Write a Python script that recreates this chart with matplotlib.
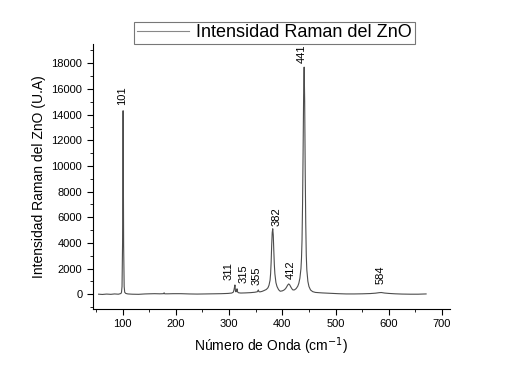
import matplotlib
matplotlib.use("Agg")
import matplotlib.pyplot as plt
from matplotlib.ticker import MultipleLocator

plt.rcParams['font.family'] = ['Liberation Sans', 'DejaVu Sans']

# Espectro Raman del ZnO
numero_onda = [55, 62, 70, 78, 85, 92, 95, 97, 98, 99, 100, 101, 102, 103, 104, 106,
               110, 118, 130, 142, 150, 160, 170, 177, 178, 179, 185, 195, 210,
               225, 240, 255, 270, 285, 298, 305, 308, 309, 310, 311, 312, 313,
               314, 315, 316, 318, 322, 330, 340, 348, 353, 354, 355, 356, 358,
               362, 366, 370, 373, 375, 377, 378, 379, 380, 381, 382, 383, 384,
               385, 386, 388, 390, 393, 396, 400, 403, 406, 408, 410, 412, 414,
               416, 418, 420, 423, 426, 429, 431, 433, 435, 436, 437, 438, 439,
               440, 441, 442, 443, 444, 445, 446, 448, 450, 453, 457, 462, 468,
               475, 485, 495, 505, 520, 535, 550, 565, 575, 582, 586, 592, 600,
               612, 625, 640, 655, 670]
intensidad = [0, -20, 10, -10, 20, 0, 30, 60, 150, 600, 4000, 14300, 3800, 600,
              150, 60, 20, 0, -10, 20, 30, 40, 30, 40, 110, 30, 30, 40, 40,
              20, 10, 20, 30, 40, 60, 90, 160, 300, 500, 720, 260, 180,
              280, 420, 170, 110, 90, 100, 120, 150, 190, 260, 330, 200, 180,
              220, 290, 370, 500, 700, 1100, 1600, 2500, 3800, 4800, 5100, 4600, 3400,
              2300, 1600, 900, 600, 350, 230, 260, 320, 430, 560, 710, 800, 720,
              560, 420, 330, 340, 440, 620, 850, 1250, 2000, 2800, 4200, 7000, 11000,
              15500, 17700, 15000, 9500, 5500, 3000, 1900, 1000, 600, 330, 200, 140, 120,
              100, 80, 60, 40, 20, 20, 30, 50, 80, 120, 130, 90, 60,
              30, 10, 0, 0, 20]

# Etiquetas de los picos
pico_texto = ['101', '311', '315', '355', '382', '412', '441', '584']
pico_x = [100, 299, 328, 352, 389, 416, 436, 585]
pico_y = [14750, 1080, 850, 700, 5350, 1150, 18050, 780]

fig = plt.figure(figsize=(5.27, 3.70), dpi=100)
ax = fig.add_axes([0.176, 0.165, 0.678, 0.716])

ax.plot(numero_onda, intensidad, color='#4d4d4d', lw=0.8,
        label='Intensidad Raman del ZnO')

for t, xp, yp in zip(pico_texto, pico_x, pico_y):
    ax.text(xp, yp, t, rotation=90, ha='center', va='bottom', fontsize=8)

ax.set_xlim(44, 715)
ax.set_ylim(-1150, 19500)
ax.xaxis.set_major_locator(MultipleLocator(100))
ax.xaxis.set_minor_locator(MultipleLocator(50))
ax.yaxis.set_major_locator(MultipleLocator(2000))
ax.yaxis.set_minor_locator(MultipleLocator(1000))
ax.set_xticks(range(100, 701, 100))
ax.set_yticks(range(0, 18001, 2000))
ax.tick_params(which='both', direction='out', labelsize=8)
ax.tick_params(which='major', length=4)
ax.tick_params(which='minor', length=2)
ax.spines['top'].set_visible(False)
ax.spines['right'].set_visible(False)

ax.set_xlabel('Número de Onda (cm$^{-1}$)', fontsize=10)
ax.set_ylabel('Intensidad Raman del ZnO (U.A)', fontsize=10)

leg = fig.legend(loc='upper center', bbox_to_anchor=(0.521, 0.966), fontsize=13,
                 frameon=True, fancybox=False, handlelength=2.9,
                 handletextpad=0.4, borderpad=0.15, edgecolor='#555555')
leg.get_frame().set_linewidth(0.8)
leg.get_lines()[0].set_color('#888888')

fig.savefig('out.png', dpi=100)
